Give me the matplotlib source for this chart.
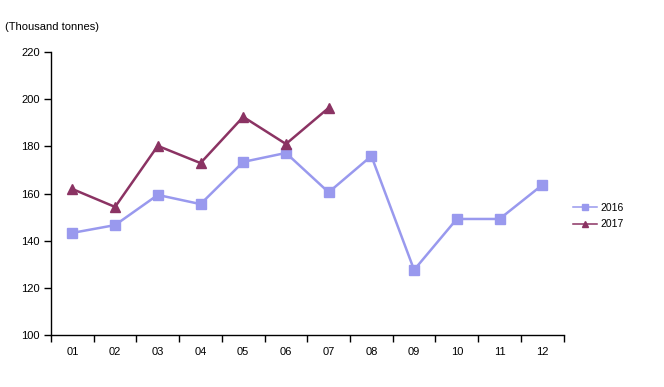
import matplotlib.pyplot as plt
import numpy as np

plt.rcParams['font.family'] = ['Liberation Sans', 'DejaVu Sans']

# Monthly values, thousand tonnes
months = ['01', '02', '03', '04', '05', '06', '07', '08', '09', '10', '11', '12']
vals_2016 = [143.3, 146.6, 159.4, 155.5, 173.4, 177.2, 160.5, 175.9, 127.6, 149.2, 149.2, 163.6]
vals_2017 = [161.9, 154.3, 180.2, 172.9, 192.5, 181.0, 196.3]

fig = plt.figure(figsize=(6.64, 3.87), dpi=100)
ax = fig.add_axes([0.0768, 0.1344, 0.772, 0.7312])

x16 = np.arange(len(vals_2016))
x17 = np.arange(len(vals_2017))
ax.plot(x16, vals_2016, color='#9999ee', lw=1.8, marker='s', ms=7.5, label='2016')
ax.plot(x17, vals_2017, color='#8b3363', lw=1.8, marker='^', ms=7.5, label='2017')

ax.set_xlim(-0.5, 11.5)
ax.set_ylim(100, 220)
ax.set_yticks(np.arange(100, 221, 20))
ax.set_xticks(np.arange(-0.5, 12, 1))
ax.set_xticklabels([])
ax.set_xticks(x16, minor=True)
ax.set_xticklabels(months, minor=True)
ax.tick_params(axis='x', which='minor', length=0, pad=9, labelsize=8)
ax.tick_params(axis='x', which='major', length=5, width=1, direction='out')
ax.tick_params(axis='y', length=5, width=1, direction='out', labelsize=8, pad=3)

for s in ['top', 'right']:
    ax.spines[s].set_visible(False)
for s in ['left', 'bottom']:
    ax.spines[s].set_linewidth(1)

fig.text(0.008, 0.93, '(Thousand tonnes)', fontsize=8, ha='left', va='center')

leg = ax.legend(loc='center left', bbox_to_anchor=(1.0, 0.42), frameon=False,
                fontsize=7.5, handlelength=2.3, markerscale=0.55, labelspacing=0.6,
                handletextpad=0.3)
for h in leg.get_lines():
    h.set_linewidth(1.1)

fig.savefig('out.png', dpi=100)
